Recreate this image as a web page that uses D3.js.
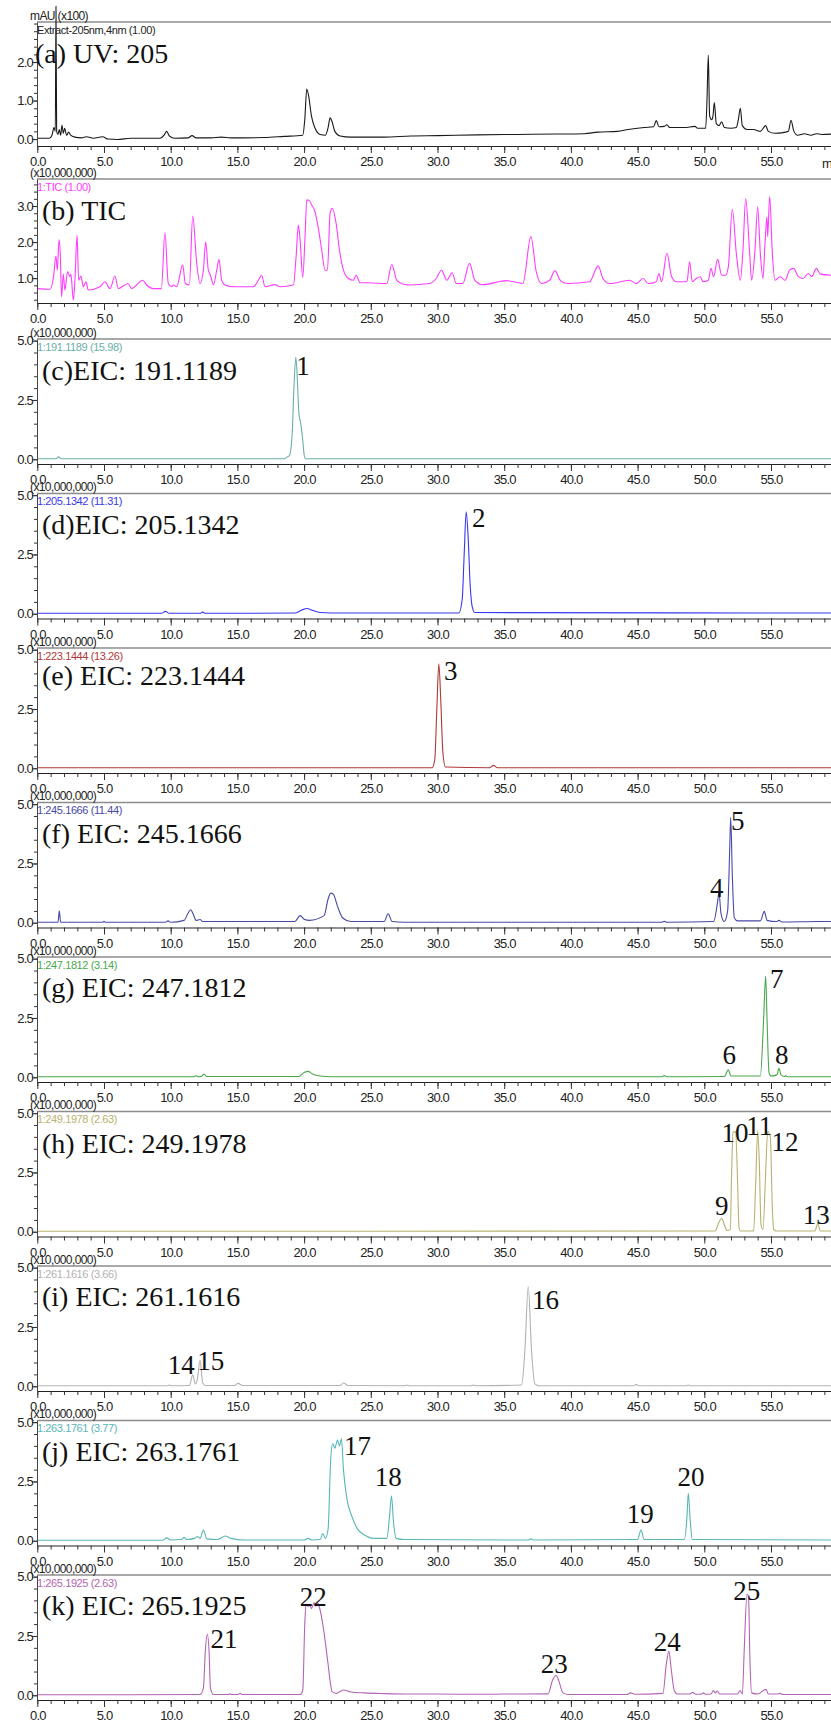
<!DOCTYPE html>
<html>
<head>
<meta charset="utf-8">
<script src="https://cdn.jsdelivr.net/npm/d3@7"></script>
<style>
body { margin: 0; background: #fff; }
svg { display: block; }
</style>
</head>
<body>
<script>
// retention time (min), intensity
var uvTrace = [[0,0.02],[0.9,0.02],[1.1,0.1],[1.25,0.3],[1.35,0.2],[1.4,3.45],[1.45,0.2],[1.55,0.12],[1.65,0.25],[1.75,0.1],[1.85,0.36],[1.95,0.15],[2.05,0.28],[2.2,0.1],[2.35,0.18],[2.5,0.1],[2.8,0.05],[3.3,0.03],[3.7,0.06],[4.2,0.02],[4.9,0.06],[5.3,0.0],[6.0,-0.01],[7.0,0.02],[8.0,0.02],[9.2,0.02],[9.5,0.1],[9.7,0.2],[9.9,0.08],[10.3,0.02],[11.3,0.03],[11.6,0.09],[11.9,0.03],[13.0,0.03],[13.8,0.05],[14.5,0.03],[17.0,0.04],[18.5,0.07],[19.9,0.1],[20.05,0.5],[20.2,1.3],[20.35,1.1],[20.55,0.6],[20.8,0.3],[21.2,0.12],[21.6,0.1],[21.8,0.3],[21.95,0.55],[22.1,0.45],[22.3,0.2],[22.7,0.08],[23.5,0.05],[26.0,0.05],[28.0,0.08],[30.0,0.09],[33.0,0.11],[36.0,0.12],[39.0,0.13],[41.0,0.14],[42.0,0.18],[43.5,0.2],[44.3,0.25],[45.5,0.3],[46.2,0.32],[46.4,0.48],[46.6,0.32],[47.0,0.33],[47.2,0.37],[47.4,0.3],[48.5,0.3],[49.3,0.33],[49.5,0.28],[50.1,0.28],[50.2,1.0],[50.3,2.18],[50.4,0.6],[50.55,0.5],[50.65,0.6],[50.75,0.95],[50.9,0.4],[51.1,0.35],[51.3,0.45],[51.5,0.3],[52.0,0.28],[52.4,0.3],[52.55,0.5],[52.7,0.8],[52.85,0.35],[53.2,0.25],[53.7,0.25],[54.2,0.2],[54.6,0.35],[54.8,0.2],[55.3,0.15],[55.8,0.16],[56.3,0.2],[56.5,0.49],[56.7,0.22],[57.0,0.1],[57.5,0.14],[58.0,0.1],[58.4,0.14],[58.8,0.12],[59.6,0.13]];

var ticTrace = [[0,0.71],[0.95,0.69],[1.2,0.99],[1.4,1.61],[1.5,1.22],[1.63,2.07],[1.72,1.69],[1.82,0.48],[1.95,1.11],[2.07,0.67],[2.27,1.18],[2.45,1.04],[2.52,1.11],[2.7,0.39],[2.82,0.94],[2.98,2.19],[3.1,0.94],[3.27,1.06],[3.45,0.76],[3.65,0.9],[3.82,0.67],[4.7,0.76],[5.07,0.9],[5.45,0.71],[5.82,1.06],[6.07,0.71],[6.8,0.85],[7.07,0.71],[7.9,0.94],[8.2,0.81],[8.7,0.71],[9.3,0.71],[9.57,2.26],[9.82,0.85],[10.07,0.76],[10.2,0.81],[10.45,0.76],[10.9,1.36],[11.1,0.85],[11.4,0.81],[11.65,2.72],[11.95,1.41],[12.2,0.85],[12.45,1.22],[12.62,2.01],[12.82,1.22],[13.0,1.06],[13.2,0.81],[13.45,1.22],[13.62,1.52],[13.82,0.94],[14.07,0.81],[14.7,0.76],[16.2,0.76],[16.57,0.94],[16.82,1.08],[17.07,0.76],[17.8,0.82],[18.2,0.76],[19.2,0.81],[19.4,1.59],[19.57,2.47],[19.7,2.06],[19.9,1.02],[20.07,2.15],[20.2,3.17],[20.4,3.15],[20.57,3.03],[20.82,2.84],[21.07,2.38],[21.32,1.78],[21.57,1.22],[21.75,1.22],[21.95,2.8],[22.12,2.94],[22.4,2.52],[22.65,1.78],[22.95,1.22],[23.32,0.99],[23.7,0.94],[23.9,1.08],[24.2,0.87],[24.7,0.87],[26.2,0.85],[26.57,1.38],[26.95,0.94],[27.45,0.83],[27.94,0.81],[29.4,0.85],[29.9,0.99],[30.3,1.22],[30.7,0.94],[31.1,1.15],[31.4,0.85],[31.9,0.85],[32.4,1.41],[32.8,0.94],[33.4,0.82],[35.2,0.93],[36.4,0.85],[37.0,2.15],[37.4,1.18],[37.8,0.85],[38.4,0.94],[38.8,1.2],[39.2,0.94],[39.7,0.85],[41.4,0.9],[42.05,1.34],[42.4,0.99],[42.9,0.85],[44.4,0.94],[44.9,0.85],[45.4,0.99],[45.8,0.85],[46.4,0.9],[46.6,1.13],[46.8,0.9],[47.2,1.69],[47.55,1.04],[47.9,0.9],[48.7,0.9],[48.9,1.45],[49.1,0.9],[49.4,0.99],[49.7,1.04],[49.9,0.9],[50.3,0.94],[50.5,1.27],[50.7,1.04],[51.0,1.52],[51.3,1.08],[51.6,1.08],[51.8,1.31],[52.1,2.91],[52.4,1.69],[52.7,0.94],[52.9,1.78],[53.1,3.21],[53.4,1.69],[53.55,0.94],[53.8,1.78],[54.0,2.98],[54.2,1.69],[54.4,0.99],[54.55,1.96],[54.7,2.7],[54.75,2.15],[54.9,3.26],[55.1,1.69],[55.3,0.94],[55.7,1.04],[56.05,0.94],[56.4,1.22],[56.7,1.27],[57.05,1.04],[57.4,0.99],[57.8,1.13],[58.05,1.04],[58.4,1.27],[58.7,1.11],[59.5,1.08]];

var eic191 = [[0,0.02],[1.4,0.02],[1.6,0.1],[1.8,0.02],[18.5,0.02],[18.75,0.1],[18.9,0.15],[19.1,1.0],[19.25,3.2],[19.38,4.3],[19.5,3.3],[19.6,2.0],[19.75,1.5],[19.9,0.8],[20.0,0.2],[20.1,0.02],[59.6,0.02]];
var eic205 = [[0,0.02],[9.3,0.02],[9.6,0.1],[9.9,0.02],[12.2,0.02],[12.4,0.07],[12.6,0.02],[19.3,0.03],[19.8,0.15],[20.2,0.22],[20.6,0.15],[21.2,0.05],[22,0.03],[31.6,0.03],[31.85,0.6],[32.0,2.5],[32.15,4.3],[32.3,3.2],[32.45,1.2],[32.6,0.3],[32.8,0.05],[59.6,0.03]];
var eic223 = [[0,0.02],[29.6,0.02],[29.8,0.4],[29.95,2.5],[30.1,4.4],[30.25,2.8],[30.4,0.7],[30.6,0.05],[33.9,0.02],[34.2,0.12],[34.5,0.02],[59.6,0.02]];
var eic245 = [[0,0.02],[1.55,0.02],[1.65,0.5],[1.75,0.02],[4.9,0.02],[5.0,0.06],[5.1,0.02],[9.6,0.02],[9.8,0.08],[10.0,0.02],[11.0,0.1],[11.3,0.4],[11.5,0.55],[11.7,0.35],[11.9,0.1],[12.2,0.14],[12.4,0.05],[19.3,0.05],[19.7,0.3],[20.0,0.15],[20.4,0.1],[21.5,0.3],[21.8,1.0],[22.0,1.25],[22.2,1.2],[22.5,0.7],[22.9,0.2],[23.5,0.05],[26.0,0.05],[26.3,0.38],[26.6,0.05],[27.5,0.02],[46.8,0.02],[47.0,0.06],[47.2,0.02],[50.7,0.05],[51.0,0.9],[51.1,1.27],[51.25,0.4],[51.5,0.05],[51.75,0.5],[51.9,3.0],[51.98,4.45],[52.1,2.0],[52.25,0.2],[52.5,0.08],[54.2,0.08],[54.5,0.48],[54.7,0.1],[55.4,0.05],[55.6,0.1],[55.8,0.03],[58.5,0.05],[59.6,0.05]];
var eic247 = [[0,0.02],[11.7,0.02],[11.9,0.06],[12.1,0.02],[12.3,0.04],[12.5,0.14],[12.7,0.03],[19.6,0.03],[20.0,0.2],[20.3,0.25],[20.6,0.15],[21.2,0.05],[22,0.02],[46.8,0.02],[47.0,0.07],[47.2,0.02],[51.5,0.03],[51.8,0.31],[52.0,0.05],[54.2,0.05],[54.45,2.5],[54.6,4.27],[54.7,2.5],[54.85,0.2],[55.0,0.05],[55.45,0.1],[55.6,0.38],[55.75,0.1],[56.0,0.03],[56.1,0.07],[56.2,0.02],[59.6,0.02]];
var eic249 = [[0,0.02],[50.8,0.03],[51.1,0.4],[51.3,0.57],[51.5,0.3],[51.7,0.05],[51.95,0.1],[52.05,2.5],[52.15,4.2],[52.35,4.22],[52.5,2.0],[52.6,0.2],[52.7,0.03],[53.7,0.03],[53.85,2.0],[54.0,4.26],[54.12,3.0],[54.25,0.3],[54.4,0.1],[54.6,2.5],[54.75,4.22],[54.95,4.0],[55.1,1.0],[55.2,0.1],[55.4,0.03],[58.3,0.03],[58.5,0.36],[58.7,0.03],[59.6,0.03]];
var eic261 = [[0,0.02],[9.7,0.02],[9.9,0.05],[10.1,0.02],[11.4,0.03],[11.65,0.48],[11.85,0.1],[12.0,0.3],[12.2,1.1],[12.4,0.15],[12.6,0.03],[14.8,0.03],[15.05,0.12],[15.4,0.03],[22.7,0.03],[22.95,0.14],[23.3,0.03],[27.5,0.02],[27.7,0.05],[27.9,0.02],[32.5,0.02],[32.7,0.05],[32.9,0.02],[36.3,0.05],[36.55,1.5],[36.8,4.2],[37.05,1.5],[37.3,0.1],[37.6,0.02],[44.7,0.02],[44.9,0.08],[45.1,0.02],[48.6,0.02],[48.8,0.05],[49.0,0.02],[59.6,0.02]];
var eic263 = [[0,0.02],[9.4,0.02],[9.7,0.12],[10.0,0.03],[10.8,0.05],[11.0,0.15],[11.2,0.05],[11.8,0.1],[12.0,0.18],[12.2,0.1],[12.45,0.45],[12.7,0.08],[13.5,0.05],[14.1,0.2],[14.5,0.1],[15.5,0.03],[20.0,0.03],[20.3,0.1],[20.6,0.03],[21.2,0.05],[21.4,0.3],[21.6,0.1],[21.8,0.5],[22.0,3.5],[22.15,4.1],[22.3,3.9],[22.5,4.25],[22.65,4.0],[22.8,4.3],[22.95,3.0],[23.2,1.8],[23.6,1.0],[24.0,0.5],[24.5,0.25],[25.2,0.1],[26.2,0.1],[26.4,1.0],[26.55,1.9],[26.7,0.8],[26.9,0.1],[27.5,0.05],[36.8,0.03],[37.0,0.08],[37.2,0.03],[45.0,0.05],[45.25,0.45],[45.5,0.05],[48.5,0.05],[48.7,1.0],[48.8,2.0],[48.95,0.8],[49.1,0.05],[59.6,0.03]];
var eic265 = [[0,0.02],[12.2,0.03],[12.45,0.3],[12.6,1.9],[12.75,2.57],[12.88,1.8],[12.98,0.3],[13.2,0.03],[14.3,0.03],[14.45,0.06],[14.6,0.03],[15.05,0.03],[15.2,0.08],[15.35,0.03],[19.7,0.03],[19.9,0.2],[20.05,3.0],[20.15,3.85],[20.3,3.75],[20.45,3.8],[20.55,3.65],[20.75,3.9],[20.85,3.75],[21.0,3.9],[21.15,3.7],[21.4,3.0],[21.6,2.2],[21.8,1.3],[21.95,0.6],[22.1,0.15],[22.4,0.08],[22.95,0.22],[23.5,0.14],[24.5,0.1],[26,0.07],[28,0.05],[30,0.05],[33,0.04],[35,0.05],[38.3,0.06],[38.6,0.6],[38.9,0.83],[39.1,0.6],[39.4,0.1],[39.8,0.03],[44.2,0.03],[44.45,0.1],[44.8,0.04],[46.9,0.08],[47.15,1.3],[47.35,1.86],[47.5,1.2],[47.75,0.2],[48.0,0.05],[48.9,0.05],[49.13,0.12],[49.35,0.04],[49.75,0.04],[49.93,0.1],[50.1,0.04],[50.5,0.05],[50.68,0.2],[50.82,0.1],[50.98,0.18],[51.15,0.05],[52.5,0.05],[52.68,0.2],[52.85,0.05],[53.0,2.0],[53.2,4.26],[53.32,4.1],[53.42,1.5],[53.55,0.1],[54.0,0.05],[54.63,0.25],[54.8,0.05],[55.5,0.05],[55.68,0.08],[55.9,0.03],[59.6,0.03]];

// peak numbers: [label, time, intensity of label baseline]
var peaks191 = [["1",19.92,3.55]];
var peaks205 = [["2",33.1,3.65]];
var peaks223 = [["3",31.0,3.7]];
var peaks245 = [["4",50.93,1.1],["5",52.5,3.9]];
var peaks247 = [["6",51.87,0.56],["7",55.43,3.77],["8",55.8,0.56]];
var peaks249 = [["9",51.3,0.7],["10",52.3,3.78],["11",54.12,4.08],["12",56.05,3.4],["13",58.4,0.33]];
var peaks261 = [["14",10.8,0.52],["15",13.0,0.69],["16",38.1,3.26]];
var peaks263 = [["17",24.0,3.6],["18",26.3,2.3],["19",45.2,0.75],["20",49.0,2.3]];
var peaks265 = [["21",14.0,2.0],["22",20.69,3.78],["23",38.76,0.94],["24",47.23,1.87],["25",53.18,4.02]];

var titles = ["(a) UV: 205", "(b) TIC", "(c)EIC: 191.1189", "(d)EIC: 205.1342", "(e) EIC: 223.1444",
  "(f) EIC: 245.1666", "(g) EIC: 247.1812", "(h) EIC: 249.1978", "(i) EIC: 261.1616", "(j) EIC: 263.1761", "(k) EIC: 265.1925"];
var traceNames = ["Extract-205nm,4nm (1.00)", "1:TIC (1.00)", "1:191.1189 (15.98)", "1:205.1342 (11.31)", "1:223.1444 (13.26)",
  "1:245.1666 (11.44)", "1:247.1812 (3.14)", "1:249.1978 (2.63)", "1:261.1616 (3.66)", "1:263.1761 (3.77)", "1:265.1925 (2.63)"];
var unitLabels = ["mAU (x100)", "(x10,000,000)", "(x10,000,000)", "(x10,000,000)", "(x10,000,000)", "(x10,000,000)",
  "(x10,000,000)", "(x10,000,000)", "(x10,000,000)", "(x10,000,000)", "(x10,000,000)"];
var xTicks = d3.range(0, 60, 5);
var xMinor = d3.range(0, 60, 1);
var yTicksUV = [0, 1, 2];
var yTicksTIC = [1, 2, 3];
var yTicksEIC = [0, 2.5, 5];

var traces = [uvTrace, ticTrace, eic191, eic205, eic223, eic245, eic247, eic249, eic261, eic263, eic265];
var peakSets = [[], [], peaks191, peaks205, peaks223, peaks245, peaks247, peaks249, peaks261, peaks263, peaks265];
var colors = ["#1a1a1a", "#ff3cff", "#6aaea8", "#3838f0", "#b23838", "#4848a8", "#4aa84a", "#b8b26e", "#b2b2b2", "#58b6b6", "#b464b4"];
var titleDy = [41, 41, 41, 40, 37, 40, 40, 41, 40, 40, 40];

var width = 831, height = 1724;
var svg = d3.select("body").append("svg")
    .attr("width", width)
    .attr("height", height)
    .attr("viewBox", "0 0 " + width + " " + height);

var x = d3.scaleLinear().domain([0, 60]).range([37.3, 37.3 + 60 * 13.34]);

var line = d3.line().curve(d3.curveMonotoneX);

traces.forEach(function(data, i) {
    var top, h, domain, yTicks, yMinor;
    if (i == 0) {
        top = 22; h = 124; domain = [-0.18, 3.04]; yTicks = yTicksUV; yMinor = d3.range(0, 3.01, 0.2);
    } else if (i == 1) {
        top = 179; h = 124; domain = [0.31, 3.75]; yTicks = yTicksTIC; yMinor = d3.range(0.4, 3.61, 0.2);
    } else {
        top = 339 + (i - 2) * 154.5; h = 125; domain = [-0.2, 5.07]; yTicks = yTicksEIC; yMinor = d3.range(0, 5.01, 0.5);
    }
    var bottom = top + h;
    var y = d3.scaleLinear().domain(domain).range([bottom, top]);
    var g = svg.append("g");

    // top of the frame
    g.append("line")
        .attr("x1", 37).attr("x2", width)
        .attr("y1", top).attr("y2", top)
        .attr("stroke", "#8c8c8c").attr("stroke-width", 1.5);

    // trace
    line.x(function(d) { return x(d[0]); }).y(function(d) { return y(d[1]); });
    g.append("path")
        .datum(data)
        .attr("d", line)
        .attr("fill", "none")
        .attr("stroke", colors[i])
        .attr("stroke-width", 1.1)
        .attr("stroke-linejoin", "round");

    // x axis
    var xa = g.append("g").attr("transform", "translate(0," + bottom + ")");
    xa.call(d3.axisBottom(x).tickValues(xMinor).tickSize(4).tickSizeOuter(0).tickFormat(""));
    var xb = g.append("g").attr("transform", "translate(0," + bottom + ")");
    xb.call(d3.axisBottom(x).tickValues(xTicks).tickSize(7).tickSizeOuter(0).tickFormat(d3.format(".1f")));
    xb.select(".domain").remove();
    xa.select(".domain").attr("stroke", "#222");
    xb.selectAll("text")
        .attr("y", 11)
        .attr("font-family", "'Liberation Sans', Arial, sans-serif")
        .attr("font-size", 13)
        .attr("letter-spacing", "-0.8")
        .attr("fill", "#222");
    g.selectAll(".tick line").attr("stroke", "#333");

    // y axis
    var ya = g.append("g").attr("transform", "translate(37,0)");
    ya.call(d3.axisLeft(y).tickValues(yMinor).tickSize(3).tickSizeOuter(0).tickFormat(""));
    ya.select(".domain").attr("stroke", "#444");
    var yb = g.append("g").attr("transform", "translate(37,0)");
    yb.call(d3.axisLeft(y).tickValues(yTicks).tickSize(5).tickSizeOuter(0).tickFormat(d3.format(".1f")));
    yb.select(".domain").remove();
    yb.selectAll("text")
        .attr("x", -4)
        .attr("font-family", "'Liberation Sans', Arial, sans-serif")
        .attr("font-size", 13)
        .attr("letter-spacing", "-0.8")
        .attr("fill", "#222");
    yb.selectAll(".tick line").attr("stroke", "#333");
    ya.selectAll(".tick line").attr("stroke", "#333");

    // unit over the axis
    g.append("text")
        .attr("x", 30).attr("y", top - 6.5)
        .attr("dominant-baseline", "central")
        .attr("font-family", "'Liberation Sans', Arial, sans-serif")
        .attr("font-size", 12)
        .attr("letter-spacing", "-0.6")
        .attr("fill", "#222")
        .text(unitLabels[i]);

    // trace name
    g.append("text")
        .attr("x", 37).attr("y", top + 7.5)
        .attr("dominant-baseline", "central")
        .attr("font-family", "'Liberation Sans', Arial, sans-serif")
        .attr("font-size", 11)
        .attr("letter-spacing", "-0.4")
        .attr("fill", i == 0 ? "#222" : colors[i])
        .text(traceNames[i]);

    // panel title
    g.append("text")
        .attr("x", i == 0 ? 35 : 42).attr("y", top + titleDy[i])
        .attr("font-family", "'Liberation Serif', 'Times New Roman', serif")
        .attr("font-size", 28)
        .attr("fill", "#111")
        .text(titles[i]);

    // peak numbers
    g.selectAll(".peak")
        .data(peakSets[i])
        .enter().append("text")
        .attr("class", "peak")
        .attr("x", function(d) { return x(d[1]); })
        .attr("y", function(d) { return y(d[2]); })
        .attr("text-anchor", "middle")
        .attr("font-family", "'Liberation Serif', 'Times New Roman', serif")
        .attr("font-size", 27)
        .attr("fill", "#111")
        .text(function(d) { return d[0]; });

    if (i == 0) {
        g.append("text")
            .attr("x", 822).attr("y", bottom + 17)
            .attr("dominant-baseline", "central")
            .attr("font-family", "'Liberation Sans', Arial, sans-serif")
            .attr("font-size", 13)
            .attr("fill", "#222")
            .text("min");
    }
});
</script>
</body>
</html>
